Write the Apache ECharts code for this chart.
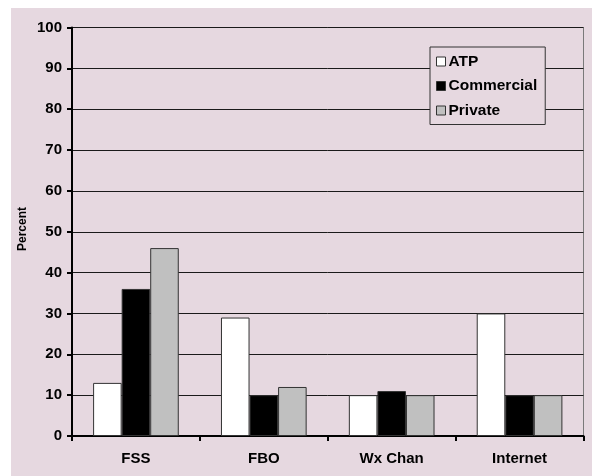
<!DOCTYPE html>
<html>
<head>
<meta charset="utf-8">
<script src="https://cdn.jsdelivr.net/npm/echarts@6/dist/echarts.min.js"></script>
<style>
  html, body { margin: 0; padding: 0; background: #ffffff; }
  #chart { width: 592px; height: 476px; }
</style>
</head>
<body>
<div id="chart"></div>
<script>
// Information sources by pilot group (percent)
var categories = ['FSS', 'FBO', 'Wx Chan', 'Internet'];
var atp        = [13, 29, 10, 30];
var commercial = [36, 10, 11, 10];
var privatePil = [46, 12, 10, 10];
var yTicks     = { min: 0, max: 100, step: 10 };
var yTitle     = 'Percent';

var font = 'Liberation Sans, Arial, sans-serif';
var panel = '#E6D8E0';

var chart = echarts.init(document.getElementById('chart'), null, { renderer: 'canvas' });

function barSeries(name, data, color) {
  return {
    name: name,
    type: 'bar',
    data: data,
    barGap: '0%',
    barCategoryGap: '33%',
    itemStyle: { color: color, borderColor: '#333333', borderWidth: 1 }
  };
}

chart.setOption({
  animation: false,
  backgroundColor: '#ffffff',
  graphic: [{
    type: 'rect',
    z: -10,
    shape: { x: 11, y: 8, width: 592 - 11, height: 476 - 8 },
    style: { fill: panel }
  }, {
    // vertical axis title
    type: 'text',
    x: 23,
    y: 229,
    rotation: Math.PI / 2,
    style: {
      text: yTitle,
      font: 'bold 12px ' + font,
      fill: '#000',
      align: 'center',
      verticalAlign: 'middle'
    }
  }],
  grid: {
    left: 72, top: 27.5, right: 8.5, bottom: 40,
    show: true,
    backgroundColor: 'transparent',
    borderColor: '#7a7a7a',
    borderWidth: 1
  },
  legend: {
    orient: 'vertical',
    left: 430,
    top: 47,
    padding: [6.5, 8, 6, 6],
    itemGap: 8.5,
    itemWidth: 9,
    itemHeight: 9,
    icon: 'rect',
    backgroundColor: panel,
    borderColor: '#333333',
    borderWidth: 1,
    textStyle: { fontFamily: font, fontWeight: 'bold', fontSize: 15.5, color: '#000', padding: [0, 0, 0, -2] },
    data: [
      { name: 'ATP', itemStyle: { borderColor: '#333', borderWidth: 1 } },
      { name: 'Commercial', itemStyle: { borderColor: '#333', borderWidth: 1 } },
      { name: 'Private', itemStyle: { borderColor: '#333', borderWidth: 1 } }
    ]
  },
  xAxis: {
    type: 'category',
    data: categories,
    axisLine: { lineStyle: { color: '#000', width: 2 } },
    axisTick: { show: true, inside: false, length: 5, alignWithLabel: false, lineStyle: { color: '#000', width: 2 } },
    axisLabel: { fontFamily: font, fontWeight: 'bold', fontSize: 15, color: '#000', margin: 15 },
    splitLine: { show: false }
  },
  yAxis: {
    type: 'value',
    min: yTicks.min,
    max: yTicks.max,
    interval: yTicks.step,
    axisLine: { show: true, lineStyle: { color: '#000', width: 2 } },
    axisTick: { show: true, inside: false, length: 5, lineStyle: { color: '#000', width: 2 } },
    axisLabel: { fontFamily: font, fontWeight: 'bold', fontSize: 15, color: '#000', margin: 10 },
    splitLine: { show: true, lineStyle: { color: '#1a1a1a', width: 1 } }
  },
  series: [
    barSeries('ATP', atp, '#ffffff'),
    barSeries('Commercial', commercial, '#000000'),
    barSeries('Private', privatePil, '#C0C0C0')
  ]
});
</script>
</body>
</html>
